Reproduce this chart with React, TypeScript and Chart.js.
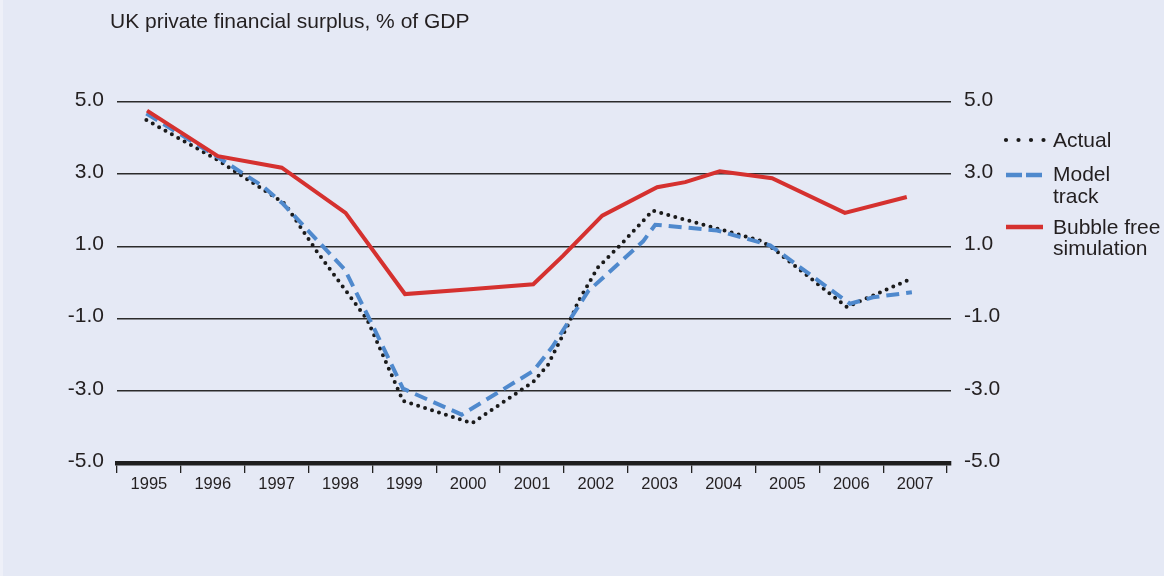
import React, { useEffect, useRef } from "react";
import { Chart, registerables } from "chart.js";

Chart.register(...registerables);

const titleText = "UK private financial surplus, % of GDP";
const xLabels = ["1995", "1996", "1997", "1998", "1999", "2000", "2001", "2002", "2003", "2004", "2005", "2006", "2007"];
const firstYear = 1995;
const yTicks = [-5, -3, -1, 1, 3, 5];

const actualX = [1995.46, 1996.58, 1997.63, 1998.13, 1998.92, 1999.48, 2000.56, 2001.52, 2001.75, 2002.09, 2002.22, 2002.53, 2002.88, 2003.39, 2005.08, 2005.27, 2006.43, 2007.37];
const actualY = [4.5, 3.39, 2.18, 0.86, -1.03, -3.28, -3.9, -2.75, -2.28, -1.08, -0.54, 0.41, 1.03, 1.99, 1.16, 0.95, -0.68, 0.05];

const modelX = [1995.46, 1996.58, 1997.28, 1997.6, 1998.57, 1998.99, 1999.48, 2000.4, 2001.52, 2001.82, 2002.38, 2003.24, 2003.43, 2004.4, 2005.23, 2006.48, 2006.84, 2007.45];
const modelY = [4.68, 3.47, 2.67, 2.18, 0.35, -1.14, -2.94, -3.66, -2.45, -1.78, -0.24, 1.14, 1.6, 1.44, 1.03, -0.59, -0.41, -0.27];

const bubbleX = [1995.47, 1996.58, 1997.58, 1998.58, 1999.51, 2000.53, 2001.52, 2001.98, 2002.6, 2003.46, 2003.9, 2004.44, 2005.26, 2006.4, 2007.37];
const bubbleY = [4.76, 3.5, 3.18, 1.93, -0.32, -0.19, -0.05, 0.73, 1.85, 2.64, 2.78, 3.08, 2.89, 1.93, 2.37];

const legendItems = [
  { lines: ["Actual"], kind: "dot" },
  { lines: ["Model", "track"], kind: "dash" },
  { lines: ["Bubble free", "simulation"], kind: "solid" },
];

const BG = "#E5E9F5";
const TEXT = "#231F20";
const RED = "#D5312F";
const BLUE = "#4F89CD";
const DOT = "#1A1A1A";
const FONT = '"Liberation Sans", Arial, Helvetica, sans-serif';

const W = 1164;
const H = 576;

const toPoints = (xs: number[], ys: number[]) => xs.map((x, i) => ({ x, y: ys[i] }));

const decorPlugin = {
  id: "decor",
  beforeDraw(chart: any) {
    const ctx = chart.ctx;
    ctx.save();
    ctx.fillStyle = BG;
    ctx.fillRect(0, 0, chart.width, chart.height);
    ctx.fillStyle = "#EEF0F8";
    ctx.fillRect(0, 0, 3, chart.height);
    ctx.restore();
  },
  afterDraw(chart: any) {
    const ctx = chart.ctx;
    ctx.save();
    ctx.fillStyle = TEXT;
    ctx.textBaseline = "alphabetic";
    ctx.textAlign = "left";
    ctx.font = `21px ${FONT}`;
    ctx.fillText(titleText, 110, 28);

    // legend
    const sx0 = 1006;
    const sx1 = 1044;
    const tx = 1053;
    const rows = [
      { sampleY: 140, baselines: [147] },
      { sampleY: 175, baselines: [181, 203] },
      { sampleY: 227, baselines: [234, 255] },
    ];
    legendItems.forEach((item, i) => {
      const r = rows[i];
      ctx.beginPath();
      ctx.moveTo(sx0, r.sampleY);
      ctx.lineTo(item.kind === "dot" ? sx1 + 0.5 : sx1 - 1, r.sampleY);
      if (item.kind === "dot") {
        ctx.setLineDash([0, 12.5]);
        ctx.lineCap = "round";
        ctx.lineWidth = 4.2;
        ctx.strokeStyle = DOT;
      } else if (item.kind === "dash") {
        ctx.setLineDash([16, 4]);
        ctx.lineCap = "butt";
        ctx.lineWidth = 4.5;
        ctx.strokeStyle = BLUE;
      } else {
        ctx.setLineDash([]);
        ctx.lineCap = "butt";
        ctx.lineWidth = 4.5;
        ctx.strokeStyle = RED;
      }
      ctx.stroke();
      ctx.setLineDash([]);
      ctx.fillStyle = TEXT;
      ctx.font = `21px ${FONT}`;
      item.lines.forEach((t, j) => ctx.fillText(t, tx, r.baselines[j]));
    });
    ctx.restore();
  },
};

export default function App() {
  const canvasRef = useRef<HTMLCanvasElement | null>(null);

  useEffect(() => {
    document.body.style.margin = "0";
    document.body.style.background = BG;
    const canvas = canvasRef.current;
    if (!canvas) return;

    const yAxisCommon = {
      type: "linear" as const,
      min: -5,
      max: 5,
      afterBuildTicks: (scale: any) => {
        scale.ticks = yTicks.map((v) => ({ value: v }));
      },
    };

    const chart = new Chart(canvas, {
      type: "line",
      data: {
        datasets: [
          {
            label: "Bubble free simulation",
            data: toPoints(bubbleX, bubbleY),
            borderColor: RED,
            borderWidth: 4,
            pointRadius: 0,
            tension: 0,
            fill: false,
            yAxisID: "y",
            borderJoinStyle: "miter",
          },
          {
            label: "Model track",
            data: toPoints(modelX, modelY),
            borderColor: BLUE,
            borderWidth: 4,
            borderDash: [13, 7],
            pointRadius: 0,
            tension: 0,
            fill: false,
            yAxisID: "y",
          },
          {
            label: "Actual",
            data: toPoints(actualX, actualY),
            borderColor: DOT,
            borderWidth: 4,
            borderDash: [0, 7.3],
            borderCapStyle: "round",
            pointRadius: 0,
            tension: 0,
            fill: false,
            yAxisID: "y",
          },
        ],
      },
      options: {
        responsive: false,
        animation: false,
        layout: { padding: { top: 102, left: 0, right: 0, bottom: 0 } },
        plugins: {
          legend: { display: false },
          title: { display: false },
          tooltip: { enabled: false },
        },
        scales: {
          x: {
            type: "linear",
            position: "bottom",
            min: firstYear,
            max: firstYear + xLabels.length + 4 / 63.85,
            afterBuildTicks: (scale: any) => {
              scale.ticks = xLabels.map((_, i) => ({ value: firstYear + i + 0.5 }));
            },
            afterFit: (scale: any) => {
              scale.height = 113;
            },
            ticks: {
              autoSkip: false,
              maxRotation: 0,
              minRotation: 0,
              padding: 2,
              color: TEXT,
              font: { family: FONT, size: 16.5 },
              callback: (_v: any, i: number) => xLabels[i],
            },
            grid: {
              display: true,
              offset: true,
              drawOnChartArea: false,
              drawTicks: true,
              tickLength: 10,
              color: "#222",
              lineWidth: 1.3,
            },
            border: { display: true, color: "#1E1E1E", width: 4.5 },
          },
          y: {
            ...yAxisCommon,
            position: "left",
            afterFit: (scale: any) => {
              scale.width = 117;
            },
            ticks: {
              padding: 13,
              color: TEXT,
              labelOffset: -2,
              font: { family: FONT, size: 21 },
              callback: (v: any) => Number(v).toFixed(1),
            },
            grid: {
              display: true,
              drawTicks: false,
              color: "#2B2B2B",
              lineWidth: 1.5,
            },
            border: { display: false },
          },
          y2: {
            ...yAxisCommon,
            position: "right",
            afterFit: (scale: any) => {
              scale.width = W - 951;
            },
            ticks: {
              padding: 13,
              color: TEXT,
              labelOffset: -2,
              font: { family: FONT, size: 21 },
              callback: (v: any) => Number(v).toFixed(1),
            },
            grid: { display: false, drawTicks: false },
            border: { display: false },
          },
        },
      },
      plugins: [decorPlugin],
    } as any);

    return () => {
      chart.destroy();
    };
  }, []);

  return (
    <div style={{ position: "absolute", left: 0, top: 0, width: W, height: H, background: BG }}>
      <canvas ref={canvasRef} width={W} height={H} style={{ display: "block", width: W, height: H }} />
    </div>
  );
}
